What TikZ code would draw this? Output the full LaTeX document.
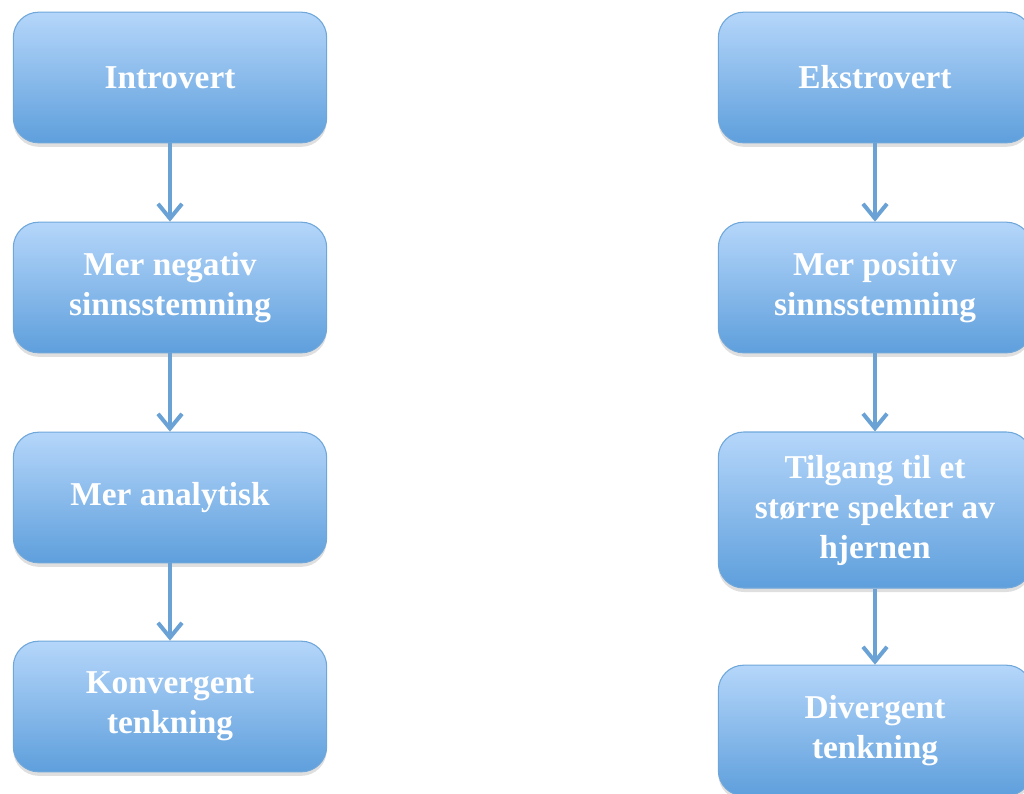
\documentclass[tikz,border=0pt]{standalone}
\usepackage{fontspec}
\setmainfont{Liberation Serif}
\usetikzlibrary{arrows.meta,shadows}
\definecolor{boxtop}{HTML}{B5D6FA}
\definecolor{boxbot}{HTML}{5E9FDC}
\definecolor{boxline}{HTML}{6FA7DA}
\definecolor{arrline}{HTML}{6AA2D6}
\tikzset{mindbox/.style={rectangle, rounded corners=19pt, draw=boxline, line width=0.8pt, top color=boxtop, bottom color=boxbot, minimum width=235pt, minimum height=98pt, align=center, text=white, font=\fontsize{25}{30}\selectfont\bfseries, drop shadow={opacity=0.25, shadow xshift=0pt, shadow yshift=-3pt}}}
\tikzset{flowarrow/.style={-{Straight Barb[length=11pt,width=18pt,line width=3pt]}, line width=3pt, draw=arrline}}

\begin{document}
\begin{tikzpicture}[x=0.75pt, y=-0.75pt]
\useasboundingbox (0,0) rectangle (1024,793);
\clip (0,0) rectangle (1024,793);
\node[mindbox] (intro) at (170,77.5) {Introvert};
\node[mindbox] (neg) at (170,287.5) {Mer negativ\\sinnsstemning};
\node[mindbox] (anal) at (170,497.5) {Mer analytisk};
\node[mindbox] (konv) at (170,706.5) {Konvergent\\tenkning};
\node[mindbox] (ekstro) at (875,77.5) {Ekstrovert};
\node[mindbox] (pos) at (875,287.5) {Mer positiv\\sinnsstemning};
\node[mindbox, minimum height=117pt] (hjerne) at (875,510) {Tilgang til et\\større spekter av\\hjernen};
\node[mindbox] (div) at (875,730.5) {Divergent\\tenkning};
\draw[flowarrow] (intro) -- (neg);
\draw[flowarrow] (neg) -- (anal);
\draw[flowarrow] (anal) -- (konv);
\draw[flowarrow] (ekstro) -- (pos);
\draw[flowarrow] (pos) -- (hjerne);
\draw[flowarrow] (hjerne) -- (div);
\end{tikzpicture}
\end{document}
